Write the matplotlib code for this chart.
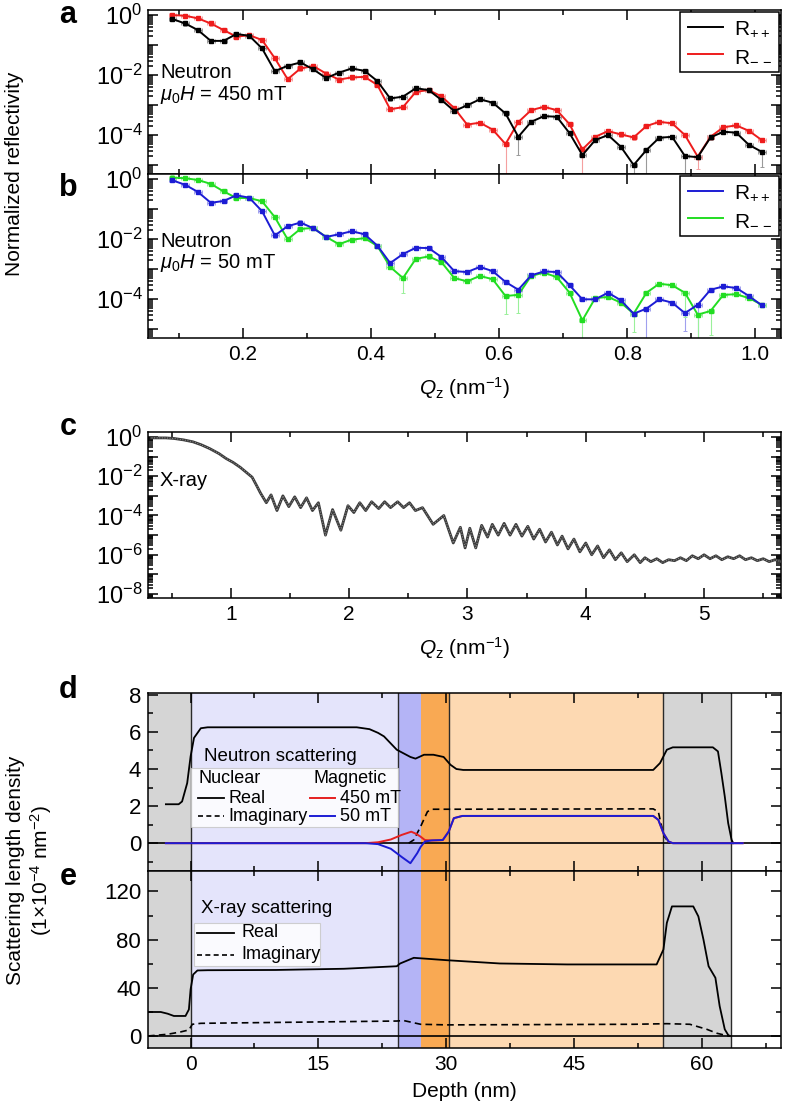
import numpy as np
import matplotlib
matplotlib.use('Agg')
import matplotlib.pyplot as plt
from matplotlib import ticker
from matplotlib.patches import Rectangle
from matplotlib.lines import Line2D

plt.rcParams['font.family'] = ['Liberation Sans', 'DejaVu Sans']
plt.rcParams['mathtext.fontset'] = 'custom'
plt.rcParams['mathtext.rm'] = 'Liberation Sans'
plt.rcParams['mathtext.it'] = 'Liberation Sans:italic'
plt.rcParams['mathtext.bf'] = 'Liberation Sans:bold'

# ---------------- data ----------------
q_neutron = [0.09, 0.11, 0.13, 0.15, 0.17, 0.19, 0.21, 0.23, 0.25, 0.27, 0.29, 0.31,
             0.33, 0.35, 0.37, 0.39, 0.41, 0.43, 0.45, 0.47, 0.49, 0.51, 0.53, 0.55,
             0.57, 0.59, 0.61, 0.63, 0.65, 0.67, 0.69, 0.71, 0.73, 0.75, 0.77, 0.79,
             0.81, 0.83, 0.85, 0.87, 0.89, 0.91, 0.93, 0.95, 0.97, 0.99, 1.01]

# log10 of reflectivity
a_pp_log = [-0.13, -0.28, -0.5, -0.86, -0.86, -0.63, -0.69, -1.11, -1.87, -1.69, -1.58, -1.81,
            -2.1, -1.92, -1.78, -1.86, -2.2, -2.78, -2.72, -2.44, -2.5, -2.83, -3.2, -3.01,
            -2.81, -2.92, -3.28, -4.06, -3.56, -3.37, -3.39, -3.94, -4.67, -4.17, -4.0, -4.39,
            -5.0, -4.5, -4.09, -4.06, -4.7, -4.74, -4.08, -3.89, -3.92, -4.33, -4.56]
a_mm_log = [0.0, -0.02, -0.11, -0.28, -0.5, -0.72, -0.67, -0.83, -1.44, -2.14, -1.78, -1.7,
            -1.95, -2.15, -2.08, -2.06, -2.33, -3.14, -3.07, -2.56, -2.5, -2.71, -3.1, -3.65,
            -3.59, -3.82, -4.3, -3.57, -3.17, -3.06, -3.17, -3.64, -4.48, -4.06, -3.87, -3.98,
            -4.08, -3.7, -3.56, -3.61, -4.0, -4.72, -4.06, -3.74, -3.68, -3.86, -4.17]
b_pp_log = [-0.04, -0.19, -0.43, -0.79, -0.73, -0.54, -0.62, -1.07, -1.88, -1.57, -1.45, -1.64,
            -1.93, -1.84, -1.74, -1.84, -2.22, -2.8, -2.5, -2.29, -2.3, -2.6, -3.07, -3.1,
            -2.93, -3.07, -3.43, -3.69, -3.21, -3.08, -3.1, -3.54, -4.01, -4.01, -3.79, -4.04,
            -4.49, -4.32, -4.01, -4.12, -4.47, -4.19, -3.69, -3.58, -3.63, -3.9, -4.21]
b_mm_log = [0.05, 0.03, -0.03, -0.16, -0.41, -0.63, -0.63, -0.74, -1.27, -2.01, -1.66, -1.63,
            -1.93, -2.17, -2.02, -1.97, -2.23, -2.93, -3.3, -2.66, -2.58, -2.77, -3.3, -3.41,
            -3.23, -3.34, -3.9, -3.86, -3.23, -3.12, -3.27, -3.79, -4.71, -3.97, -3.93, -4.12,
            -4.49, -3.79, -3.49, -3.54, -3.79, -4.52, -4.4, -3.86, -3.84, -3.97, -4.19]

# points with long downward error bars (index: decades below point)
a_pp_bigerr = {27: 0.6, 36: 0.4, 37: 1.5, 40: 1.5, 46: 0.5}
a_mm_bigerr = {26: 1.5, 32: 1.5, 41: 0.4}
b_pp_bigerr = {37: 1.5, 40: 0.6, 41: 1.2}
b_mm_bigerr = {18: 0.5, 26: 0.6, 27: 0.6, 32: 1.0, 36: 0.6, 40: 0.8, 41: 1.0, 42: 0.8}

# X-ray reflectivity (Q in nm^-1, log10 R)
xr_q = [0.33, 0.45, 0.52, 0.60, 0.68, 0.75, 0.82, 0.90, 0.96, 1.02, 1.08, 1.13, 1.18, 1.22,
        1.25, 1.30, 1.34, 1.39, 1.44, 1.49, 1.54, 1.59, 1.64, 1.69, 1.74, 1.80, 1.86, 1.93,
        1.99, 2.04, 2.09, 2.14, 2.19, 2.25, 2.30, 2.35, 2.41, 2.46, 2.51, 2.56, 2.62, 2.71,
        2.80, 2.88, 2.94, 2.98, 3.02, 3.07, 3.12, 3.17, 3.21, 3.26, 3.31, 3.36, 3.41, 3.46,
        3.51, 3.56, 3.61, 3.66, 3.71, 3.76, 3.80, 3.85, 3.90, 3.95, 4.00, 4.05, 4.10, 4.15,
        4.20, 4.25, 4.30, 4.35, 4.41, 4.46, 4.50, 4.55, 4.60, 4.65, 4.70, 4.75, 4.80, 4.85,
        4.90, 4.95, 5.00, 5.05, 5.10, 5.15, 5.20, 5.25, 5.30, 5.35, 5.40, 5.45, 5.50, 5.55,
        5.60, 5.65]
xr_log = [-0.05, -0.05, -0.08, -0.15, -0.25, -0.4, -0.59, -0.85, -1.1, -1.3, -1.55, -1.8,
          -2.05, -2.5, -2.85, -3.35, -2.95, -3.75, -3.0, -3.55, -3.05, -3.6, -3.1, -3.75,
          -3.35, -5.0, -3.7, -4.75, -3.5, -3.85, -3.35, -3.75, -3.3, -3.65, -3.3, -3.6,
          -3.3, -3.6, -3.35, -3.75, -3.6, -4.45, -4.0, -5.4, -4.6, -5.65, -4.65, -5.65,
          -4.5, -5.1, -4.45, -5.0, -4.4, -5.0, -4.45, -5.05, -4.55, -5.2, -4.7, -5.35,
          -4.85, -5.5, -5.05, -5.7, -5.2, -5.85, -5.4, -6.0, -5.55, -6.15, -5.75, -6.25,
          -5.9, -6.35, -6.0, -6.4, -6.15, -6.35, -6.2, -6.4, -6.25, -6.3, -6.15, -6.3,
          -6.05, -6.2, -6.0, -6.2, -6.05, -6.25, -6.1, -6.2, -6.05, -6.25, -6.15, -6.3,
          -6.2, -6.35, -6.25, -6.35]

# Neutron SLD profiles (depth nm, SLD 1e-4 nm^-2)
nuc_real_z = [-2.9, -1.4, -1.0, -0.4, 0.0, 0.4, 1.2, 2.0, 19.5, 21.0, 22.0, 22.7, 24.2, 25.8,
              26.4, 27.4, 28.5, 29.7, 30.5, 31.2, 32.0, 54.3, 55.1, 55.9, 56.6, 61.3, 61.9,
              62.3, 62.7, 63.1, 63.5, 63.7]
nuc_real_v = [2.1, 2.1, 2.25, 3.24, 4.68, 5.68, 6.2, 6.25, 6.25, 6.15, 5.95, 5.76, 5.04, 4.65,
              4.56, 4.77, 4.77, 4.65, 4.23, 4.0, 3.95, 3.95, 4.32, 5.04, 5.17, 5.17, 4.95,
              3.78, 2.52, 1.08, 0.18, 0.0]
nuc_imag_z = [25.6, 26.2, 27.0, 27.8, 28.3, 54.3, 54.9, 55.2, 55.6, 56.2]
nuc_imag_v = [0.0, 0.18, 0.9, 1.7, 1.83, 1.85, 1.7, 1.08, 0.36, 0.0]
mag450_z = [-2.9, 20.5, 22.0, 23.5, 24.8, 25.9, 26.5, 27.0, 27.5, 28.3, 29.6, 30.3, 30.9, 31.9,
            54.3, 54.9, 55.5, 56.1, 56.6, 64.8]
mag450_v = [0.0, 0.0, 0.05, 0.2, 0.45, 0.62, 0.5, 0.35, 0.17, 0.15, 0.17, 0.63, 1.35, 1.47,
            1.47, 1.26, 0.54, 0.09, 0.0, 0.0]
mag50_z = [-2.9, 20.5, 22.0, 23.5, 24.8, 25.8, 26.6, 27.0, 27.5, 28.3, 29.6, 30.3, 30.9, 31.9,
           54.3, 54.9, 55.5, 56.1, 56.6, 64.8]
mag50_v = [0.0, 0.0, -0.05, -0.3, -0.75, -1.08, -0.54, -0.2, 0.09, 0.15, 0.17, 0.63, 1.35,
           1.47, 1.47, 1.26, 0.54, 0.09, 0.0, 0.0]

# X-ray SLD profiles
xr_real_z = [-5.0, -3.5, -2.7, -1.96, -0.6, -0.2, 0.0, 0.3, 0.8, 2.0, 10.0, 18.0, 24.2, 24.6,
             26.2, 30.1, 36.3, 44.2, 54.7, 55.5, 55.9, 56.5, 59.0, 59.6, 60.2, 60.8, 61.6,
             62.1, 62.7, 63.1, 63.3]
xr_real_v = [19.9, 19.9, 18.5, 16.6, 16.6, 22.0, 38.7, 51.0, 54.4, 54.6, 54.8, 55.8, 57.9,
             60.2, 64.9, 62.9, 60.2, 59.4, 59.4, 71.8, 93.9, 107.6, 107.6, 99.3, 80.0, 57.9,
             48.3, 24.8, 5.5, 0.8, 0.0]
xr_imag_z = [-5.0, -2.7, -1.2, -0.2, 0.2, 1.2, 24.2, 25.0, 27.0, 30.1, 52.0, 55.9, 58.6,
             60.6, 61.8, 63.1, 63.3]
xr_imag_v = [0.0, 1.4, 3.3, 5.0, 9.7, 10.5, 12.4, 12.8, 9.7, 9.2, 9.7, 10.2, 9.7, 5.5, 2.2,
             0.0, 0.0]

# layer boundaries (nm) and colours
layer_edges = [-5.0, 0.0, 24.3, 27.0, 30.3, 55.5, 63.4]
layer_colors = ['#d5d5d5', '#e4e4fb', '#b4b4f6', '#f9a953', '#fdd9b2', '#d5d5d5']
boundary_lines = [0.0, 24.3, 30.3, 55.5, 63.4]

# ---------------- figure ----------------
W, H = 788, 1109
fig = plt.figure(figsize=(W / 100, H / 100), dpi=100)


def add_ax(l, t, r, b):
    return fig.add_axes([l / W, 1 - b / H, (r - l) / W, (b - t) / H])


axa = add_ax(148, 10, 781, 174)
axb = add_ax(148, 174, 781, 338)
axc = add_ax(148, 432, 781, 598)
axd = add_ax(148, 693, 781, 871)
axe = add_ax(148, 871, 781, 1048)


def style(ax):
    ax.tick_params(which='both', direction='in', top=True, right=True, labelsize=15,
                   width=1.1, pad=5)
    ax.tick_params(which='major', length=7)
    ax.tick_params(which='minor', length=3.5)
    for s in ax.spines.values():
        s.set_linewidth(1.1)


def logfmt(v, pos):
    e = int(round(np.log10(v)))
    return f'$10^{{{e}}}$' if e % 2 == 0 else ''


def setup_log(ax):
    ax.set_yscale('log')
    ax.yaxis.set_major_locator(ticker.LogLocator(base=10, numticks=40))
    ax.yaxis.set_minor_locator(ticker.LogLocator(base=10, subs=np.arange(2, 10), numticks=40))
    ax.yaxis.set_major_formatter(ticker.FuncFormatter(logfmt))
    ax.yaxis.set_minor_formatter(ticker.NullFormatter())


def neutron_panel(ax, pp_log, mm_log, pp_big, mm_big, c_pp, c_mm, e_pp, e_mm):
    q = np.array(q_neutron)
    for logs, big, col, ecol in ((pp_log, pp_big, c_pp, e_pp), (mm_log, mm_big, c_mm, e_mm)):
        r = 10 ** np.array(logs)
        lo = np.full(len(r), 0.07)
        for k, v in big.items():
            lo[k] = v
        yl = r - r * 10 ** (-lo)
        yh = r * 10 ** 0.07 - r
        ax.errorbar(q, r, xerr=0.006, yerr=[yl, yh], fmt='none', ecolor=ecol,
                    elinewidth=0.8, capsize=1.5, capthick=0.7, zorder=2)
    ax.plot(q, 10 ** np.array(pp_log), color=c_pp, lw=1.4, marker='s', ms=3.5, zorder=4)
    ax.plot(q, 10 ** np.array(mm_log), color=c_mm, lw=1.4, marker='s', ms=3.5, zorder=3)
    setup_log(ax)
    ax.set_ylim(10 ** -5.3, 10 ** 0.17)
    ax.set_xlim(0.052, 1.04)
    ax.xaxis.set_major_locator(ticker.MultipleLocator(0.2))
    ax.xaxis.set_minor_locator(ticker.MultipleLocator(0.1))
    ax.xaxis.set_major_formatter(ticker.FormatStrFormatter('%.1f'))
    style(ax)
    ax.tick_params(axis='y', labelsize=17, pad=4)
    h = [Line2D([], [], color=c_pp, lw=1.4), Line2D([], [], color=c_mm, lw=1.4)]
    leg = ax.legend(h, ['R$_{++}$', 'R$_{-\\,-}$'], loc='upper right', fancybox=False,
                    edgecolor='black', fontsize=15, handlelength=1.7, borderaxespad=0.1,
                    framealpha=1, labelspacing=0.35, borderpad=0.35, handletextpad=0.5)
    leg.get_frame().set_linewidth(1.1)


neutron_panel(axa, a_pp_log, a_mm_log, a_pp_bigerr, a_mm_bigerr,
              'black', '#ee1c1c', '#9a9a9a', '#f5a0a0')
neutron_panel(axb, b_pp_log, b_mm_log, b_pp_bigerr, b_mm_bigerr,
              '#1c1cd4', '#22dd22', '#a0a0ee', '#9af09a')
axa.tick_params(labelbottom=False)

axa.text(0.019, 0.62, 'Neutron', transform=axa.transAxes, fontsize=14.5, va='center')
axa.text(0.019, 0.48, r'$\mu_0H$ = 450 mT', transform=axa.transAxes, fontsize=14.5, va='center')
axb.text(0.019, 0.59, 'Neutron', transform=axb.transAxes, fontsize=14.5, va='center')
axb.text(0.019, 0.455, r'$\mu_0H$ = 50 mT', transform=axb.transAxes, fontsize=14.5, va='center')
axb.set_xlabel(r'$Q_{\mathrm{z}}$ (nm$^{-1}$)', fontsize=15, labelpad=8)

# panel c
axc.plot(xr_q, 10 ** np.array(xr_log), color='#3a3a3a', lw=2.0, zorder=3)
axc.plot(xr_q, 10 ** np.array(xr_log), color='#9a9a9a', lw=0.7, ls=':', zorder=4)
setup_log(axc)
axc.set_ylim(10 ** -8.2, 10 ** 0.25)
axc.set_xlim(0.3, 5.65)
axc.xaxis.set_major_locator(ticker.MultipleLocator(1))
axc.xaxis.set_minor_locator(ticker.MultipleLocator(0.5))
style(axc)
axc.tick_params(axis='y', labelsize=17, pad=4)
axc.text(0.019, 0.71, 'X-ray', transform=axc.transAxes, fontsize=14.5, va='center')
axc.set_xlabel(r'$Q_{\mathrm{z}}$ (nm$^{-1}$)', fontsize=15, labelpad=8)

# panels d and e
for ax in (axd, axe):
    for i, col in enumerate(layer_colors):
        ax.axvspan(layer_edges[i], layer_edges[i + 1], color=col, lw=0, zorder=0)
    for xb in boundary_lines:
        ax.axvline(xb, color='#2a2a2a', lw=1.0, zorder=1)
    ax.axhline(0, color='black', lw=1.2, zorder=2)
    ax.set_xlim(-5, 69.3)
    ax.xaxis.set_major_locator(ticker.MultipleLocator(15))
    ax.xaxis.set_minor_locator(ticker.MultipleLocator(7.5))
    style(ax)
    ax.tick_params(axis='y', labelsize=16)

axd.plot(nuc_real_z, nuc_real_v, color='black', lw=1.3, zorder=5)
axd.plot(nuc_imag_z, nuc_imag_v, color='black', lw=1.2, ls=(0, (4, 2.5)), zorder=5)
axd.plot(mag450_z, mag450_v, color='#e52020', lw=1.4, zorder=6)
axd.plot(mag50_z, mag50_v, color='#1c1cd4', lw=1.4, zorder=7)
axd.set_ylim(-1.5, 8.1)
axd.yaxis.set_major_locator(ticker.MultipleLocator(2))
axd.yaxis.set_minor_locator(ticker.MultipleLocator(1))
axd.tick_params(labelbottom=False)

# neutron legend
fs_leg = 13
axd.add_patch(Rectangle((0.0, 0.9), 24.3, 3.15, facecolor='white', alpha=0.85,
                        edgecolor='#c8c8c8', lw=0.8, zorder=3))
axd.text(10.5, 4.68, 'Neutron scattering', fontsize=fs_leg + 0.5, ha='center', va='center', zorder=8)
axd.text(0.9, 3.48, 'Nuclear', fontsize=fs_leg, ha='left', va='center', zorder=8)
axd.text(14.4, 3.48, 'Magnetic', fontsize=fs_leg, ha='left', va='center', zorder=8)
axd.plot([0.9, 3.9], [2.43, 2.43], color='black', lw=1.3, zorder=8)
axd.text(4.4, 2.43, 'Real', fontsize=fs_leg, ha='left', va='center', zorder=8)
axd.plot([0.9, 3.9], [1.44, 1.44], color='black', lw=1.2, ls=(0, (3, 2)), zorder=8)
axd.text(4.4, 1.44, 'Imaginary', fontsize=fs_leg, ha='left', va='center', zorder=8)
axd.plot([14.0, 17.0], [2.43, 2.43], color='#e52020', lw=1.4, zorder=8)
axd.text(17.5, 2.43, '450 mT', fontsize=fs_leg, ha='left', va='center', zorder=8)
axd.plot([14.0, 17.0], [1.44, 1.44], color='#1c1cd4', lw=1.4, zorder=8)
axd.text(17.5, 1.44, '50 mT', fontsize=fs_leg, ha='left', va='center', zorder=8)

axe.plot(xr_real_z, xr_real_v, color='black', lw=1.3, zorder=5)
axe.plot(xr_imag_z, xr_imag_v, color='black', lw=1.2, ls=(0, (4, 2.5)), zorder=5)
axe.set_ylim(-10, 137)
axe.yaxis.set_major_locator(ticker.MultipleLocator(40))
axe.yaxis.set_minor_locator(ticker.MultipleLocator(20))
axe.set_xlabel('Depth (nm)', fontsize=15, labelpad=6)

axe.text(1.2, 106, 'X-ray scattering', fontsize=fs_leg + 0.5, ha='left', va='center', zorder=8)
axe.add_patch(Rectangle((0.4, 58), 14.8, 36, facecolor='white', alpha=0.85,
                        edgecolor='#c8c8c8', lw=0.8, zorder=3))
axe.plot([0.8, 5.1], [85.6, 85.6], color='black', lw=1.3, zorder=8)
axe.text(6.0, 85.6, 'Real', fontsize=fs_leg, ha='left', va='center', zorder=8)
axe.plot([0.8, 5.1], [67.6, 67.6], color='black', lw=1.2, ls=(0, (3, 2)), zorder=8)
axe.text(6.0, 67.6, 'Imaginary', fontsize=fs_leg, ha='left', va='center', zorder=8)

# labels
fig.text(15 / W, 1 - 174 / H, 'Normalized reflectivity', rotation=90, fontsize=15,
         ha='center', va='center')
fig.text(30 / W, 1 - 870 / H, 'Scattering length density\n(1×10$^{-4}$ nm$^{-2}$)',
         rotation=90, fontsize=15, ha='center', va='center', multialignment='center',
         linespacing=1.2)
for lab, (px, py) in {'a': (68, 15), 'b': (68, 188), 'c': (68, 427),
                      'd': (68, 690), 'e': (68, 877)}.items():
    fig.text(px / W, 1 - py / H, lab, fontsize=22, fontweight='bold', ha='center',
             va='center')

fig.savefig('out.png', dpi=100)
